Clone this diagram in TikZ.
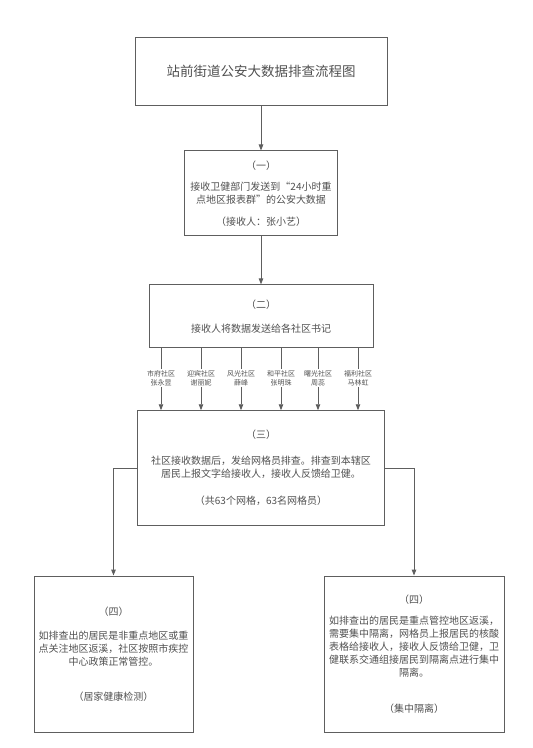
\documentclass[tikz,border=0pt]{standalone}
\usepackage{fontspec}
\setmainfont{Noto Sans CJK SC}
\usetikzlibrary{arrows.meta, positioning}
\definecolor{linegray}{HTML}{5E5E5E}
\definecolor{textgray}{HTML}{505050}
\tikzset{
  titlebox/.style={rectangle,draw=linegray,line width=0.9pt,text=textgray,
    minimum width=252pt,minimum height=68pt,font=\fontsize{13.5}{16}\selectfont},
  stepbox/.style={rectangle,draw=linegray,line width=0.9pt,text=textgray,
    align=center,inner sep=0pt,font=\fontsize{10}{13}\selectfont},
  namelabel/.style={text=textgray,align=center,inner sep=1pt,
    font=\fontsize{7}{9}\selectfont},
  arrow/.style={-{Triangle[length=6pt,width=4.5pt]},line width=0.9pt,draw=linegray},
  plainline/.style={line width=0.9pt,draw=linegray}
}
\begin{document}
\begin{tikzpicture}[x=1pt,y=-1pt]
  \useasboundingbox (0,0) rectangle (533,748);

  \node[titlebox] (title) at (261,71) {站前街道公安大数据排查流程图};
  \node[stepbox, minimum width=153pt, minimum height=85pt, below=45pt of title]
    (s1) {（一）\\[8pt]
    接收卫健部门发送到“24小时重\\
    点地区报表群”的公安大数据\\[9pt]
    （接收人：张小艺）};
  \node[stepbox, minimum width=224pt, minimum height=63pt, below=48pt of s1]
    (s2) {（二）\\[11pt]
    接收人将数据发送给各社区书记};
  \node[stepbox, minimum width=247pt, minimum height=115pt, below=62pt of s2]
    (s3) {（三）\\[13pt]
    社区接收数据后，发给网格员排查。排查到本辖区\\
    居民上报文字给接收人，接收人反馈给卫健。\\[14pt]
    （共63个网格，63名网格员）};
  \node[stepbox, minimum width=159pt, minimum height=156pt] (s4a) at (113.5,654)
    {（四）\\[11pt]
    如排查出的居民是非重点地区或重\\
    点关注地区返溪，社区按照市疾控\\
    中心政策正常管控。\\[22pt]
    （居家健康检测）};
  \node[stepbox, minimum width=180pt, minimum height=156pt] (s4b) at (414,654)
    {（四）\\[8pt]
    如排查出的居民是重点管控地区返溪，\\
    需要集中隔离，网格员上报居民的核酸\\
    表格给接收人，接收人反馈给卫健，卫\\
    健联系交通组接居民到隔离点进行集中\\
    隔离。\\[23pt]
    （集中隔离）};

  % community secretaries
  \node[namelabel] (c1) at (161,378) {市府社区\\张永昱};
  \node[namelabel] (c2) at (201,378) {迎宾社区\\谢丽妮};
  \node[namelabel] (c3) at (241,378) {风光社区\\薛峰};
  \node[namelabel] (c4) at (281,378) {和平社区\\张明珠};
  \node[namelabel] (c5) at (318,378) {曙光社区\\周蕊};
  \node[namelabel] (c6) at (358,378) {福利社区\\马林虹};

  \draw[arrow] (title) -- (s1);
  \draw[arrow] (s1) -- (s2);
  \foreach \c in {c1,c2,c3,c4,c5,c6}{
    \draw[plainline] (s2.south -| \c) -- (\c.north);
    \draw[arrow] (\c.south) -- (s3.north -| \c);
  }
  \draw[arrow] (s3.west) -| (s4a.north);
  \draw[arrow] (s3.east) -| (s4b.north);
\end{tikzpicture}
\end{document}
